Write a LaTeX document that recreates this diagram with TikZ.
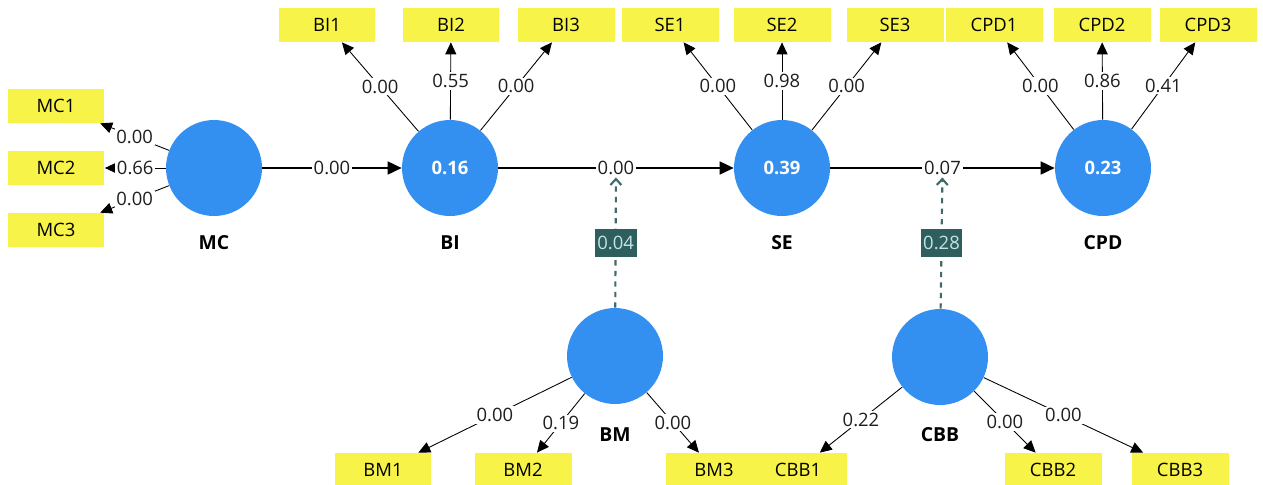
\documentclass[tikz,border=0pt]{standalone}
\usepackage{fontspec}
\setmainfont{Open Sans}
\usetikzlibrary{arrows.meta}
\definecolor{lvblue}{RGB}{51,144,240}
\definecolor{indyellow}{RGB}{248,243,72}
\definecolor{modteal}{RGB}{47,94,94}
\definecolor{modtext}{RGB}{196,228,228}
\definecolor{dashteal}{RGB}{66,106,106}
\definecolor{esttext}{RGB}{30,30,30}
\tikzset{
  lv/.style={circle,fill=lvblue,minimum size=1.92cm,inner sep=0pt,text=white,font=\fontsize{10.5}{12}\selectfont\bfseries},
  lvname/.style={font=\fontsize{11}{13}\selectfont\bfseries},
  ind/.style={rectangle,fill=indyellow,minimum width=1.94cm,minimum height=0.68cm,inner sep=0pt,font=\fontsize{10.5}{12}\selectfont},
  est/.style={fill=white,inner sep=1pt,text=esttext,font=\fontsize{10.5}{12}\selectfont},
  load/.style={-{Triangle[length=2.4mm,width=2.2mm]},line width=0.5pt},
  struct/.style={-{Triangle[length=2.8mm,width=2.6mm]},line width=1pt},
  moder/.style={dashed,dashteal,line width=1.2pt,-{Straight Barb[length=1.2mm,width=2.2mm]}},
  modbox/.style={fill=modteal,text=modtext,inner sep=1.5pt,minimum height=0.56cm,font=\fontsize{10.5}{12}\selectfont}
}
\begin{document}
\begin{tikzpicture}[x=0.02cm,y=-0.02cm]
  \useasboundingbox (0,0) rectangle (1263,484);
  % latent variables
  \node[lv] (mc) at (214,168) {};
  \node[lv] (bi) at (450,168) {0.16};
  \node[lv] (se) at (782,168) {0.39};
  \node[lv] (cpd) at (1103,168) {0.23};
  \node[lv] (bm) at (615,356) {};
  \node[lv] (cbb) at (940,357) {};
  \node[lvname] (mcname) at (214,243) {MC};
  \node[lvname] (biname) at (450,243) {BI};
  \node[lvname] (sename) at (782,243) {SE};
  \node[lvname] (cpdname) at (1103,243) {CPD};
  \node[lvname] (bmname) at (615,435) {BM};
  \node[lvname] (cbbname) at (940,435) {CBB};
  % indicators
  \node[ind] (mc1) at (56,106) {MC1};
  \node[ind] (mc2) at (56,168) {MC2};
  \node[ind] (mc3) at (56,230) {MC3};
  \node[ind] (bi1) at (327,25) {BI1};
  \node[ind] (bi2) at (451,25) {BI2};
  \node[ind] (bi3) at (566,25) {BI3};
  \node[ind] (se1) at (670,25) {SE1};
  \node[ind] (se2) at (782,25) {SE2};
  \node[ind] (se3) at (895,25) {SE3};
  \node[ind] (cpd1) at (994,25) {CPD1};
  \node[ind] (cpd2) at (1102,25) {CPD2};
  \node[ind] (cpd3) at (1208,25) {CPD3};
  \node[ind] (bm1) at (383,470) {BM1};
  \node[ind] (bm2) at (523,470) {BM2};
  \node[ind] (bm3) at (714,470) {BM3};
  \node[ind] (cbb1) at (798,470) {CBB1};
  \node[ind] (cbb2) at (1053,470) {CBB2};
  \node[ind] (cbb3) at (1180,470) {CBB3};
  % outer loadings
  \draw[load] (mc) -- node[est] {0.00} (mc1);
  \draw[load] (mc) -- node[est] {0.66} (mc2);
  \draw[load] (mc) -- node[est] {0.00} (mc3);
  \draw[load] (bi) -- node[est] {0.00} (bi1);
  \draw[load] (bi) -- node[est] {0.55} (bi2);
  \draw[load] (bi) -- node[est] {0.00} (bi3);
  \draw[load] (se) -- node[est] {0.00} (se1);
  \draw[load] (se) -- node[est] {0.98} (se2);
  \draw[load] (se) -- node[est] {0.00} (se3);
  \draw[load] (cpd) -- node[est] {0.00} (cpd1);
  \draw[load] (cpd) -- node[est] {0.86} (cpd2);
  \draw[load] (cpd) -- node[est] {0.41} (cpd3);
  \draw[load] (bm) -- node[est] {0.00} (bm1);
  \draw[load] (bm) -- node[est] {0.19} (bm2);
  \draw[load] (bm) -- node[est] {0.00} (bm3);
  \draw[load] (cbb) -- node[est] {0.22} (cbb1);
  \draw[load] (cbb) -- node[est] {0.00} (cbb2);
  \draw[load] (cbb) -- node[est] {0.00} (cbb3);
  % inner model
  \draw[struct] (mc) -- node[est] (mcbi) {0.00} (bi);
  \draw[struct] (bi) -- node[est] (bise) {0.00} (se);
  \draw[struct] (se) -- node[est] (secpd) {0.07} (cpd);
  % moderating effects
  \draw[moder] (bm) -- node[modbox] (bmeff) {0.04} (bise);
  \draw[moder] (cbb) -- node[modbox] (cbbeff) {0.28} (secpd);
\end{tikzpicture}
\end{document}
